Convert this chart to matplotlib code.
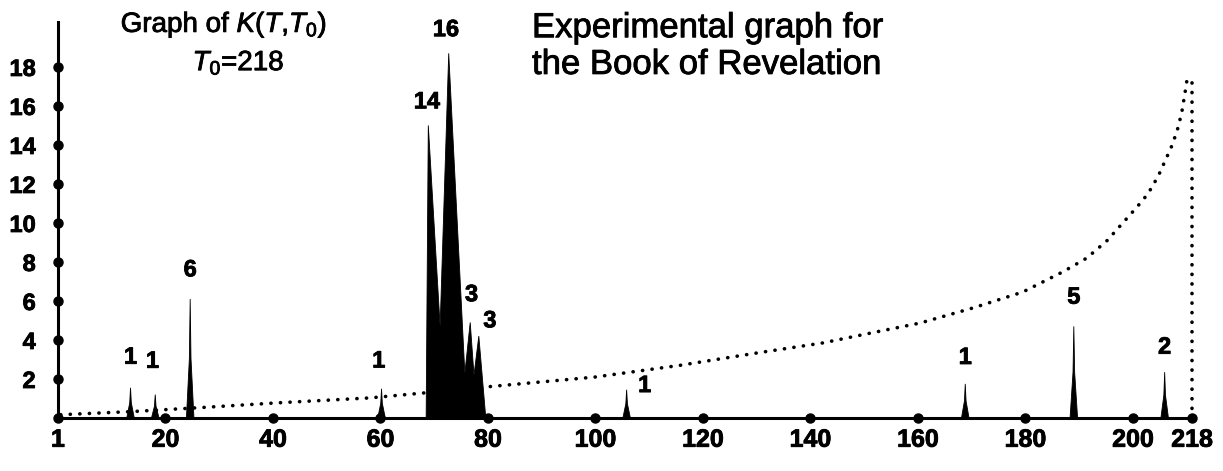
import numpy as np
import matplotlib
matplotlib.use("Agg")
import matplotlib.pyplot as plt
import matplotlib.patheffects as pe

plt.rcParams['font.family'] = ['Liberation Sans', 'DejaVu Sans']
plt.rcParams['mathtext.fontset'] = 'custom'
plt.rcParams['mathtext.rm'] = 'Liberation Sans'
plt.rcParams['mathtext.it'] = 'Liberation Sans:italic'

# axis ticks (the last tick "218" sits a bit closer than scale)
xtick_pos = [0, 20, 40, 60, 80, 100, 120, 140, 160, 180, 200, 211]
xtick_labels = ['1', '20', '40', '60', '80', '100', '120', '140', '160', '180', '200', '218']
ytick_pos = [2, 4, 6, 8, 10, 12, 14, 16, 18]
y_axis_top = 20.3

# isolated spikes: position, height
spike_x = [13.5, 18.1, 24.6, 60.2, 105.8, 168.8, 189.0, 205.9]
spike_h = [1.55, 1.2, 6.1, 1.5, 1.45, 1.75, 4.7, 2.35]

# the big cluster near 70-80 (outline of the filled shape)
cluster_x = [68.5, 68.9, 71.1, 72.7, 75.7, 76.7, 77.4, 78.3, 79.6]
cluster_y = [0, 15.0, 4.7, 18.7, 2.3, 4.9, 2.2, 4.2, 0]

# labelled peak tops and their printed values
label_x = [13.5, 18.1, 24.6, 60.2, 68.9, 72.7, 76.7, 78.3, 105.8, 168.8, 189.0, 205.9]
label_top = [1.55, 1.2, 6.1, 1.5, 15.0, 18.7, 4.9, 4.2, 1.45, 1.75, 4.7, 2.35]
label_txt = ['1', '1', '6', '1', '14', '16', '3', '3', '1', '1', '5', '2']

# dotted curve K(T,T0)
curve_x = [0.5, 13.8, 26.3, 41, 58, 67.9, 80.7, 99.9, 115.7, 130.4, 142.3, 151.1,
           160.4, 170.2, 179.5, 187.0, 191.4, 195.2, 198.1, 200.7, 202.8, 204.7,
           206.5, 207.3, 207.8, 208.4, 209.1, 209.7, 210.2]
curve_y = [0.17, 0.33, 0.53, 0.78, 1.03, 1.28, 1.62, 2.1, 2.7, 3.35, 3.85, 4.35,
           4.87, 5.64, 6.46, 7.5, 8.2, 9.1, 10.0, 10.8, 11.5, 12.4,
           13.5, 14.0, 14.4, 14.9, 15.7, 16.7, 17.6]

fig = plt.figure(figsize=(12.23, 4.71), dpi=100)
ax = fig.add_axes([0.0386, 0.0711, 0.9493, 0.911])
ax.set_xlim(-2, 214)
ax.set_ylim(-1, 21)

ink = [pe.withStroke(linewidth=0.6, foreground='black')]

# spines act as axes through the origin
for s in ['top', 'right']:
    ax.spines[s].set_visible(False)
ax.spines['left'].set_position(('data', 0))
ax.spines['bottom'].set_position(('data', 0))
ax.spines['left'].set_bounds(0, y_axis_top)
ax.spines['bottom'].set_bounds(xtick_pos[0], xtick_pos[-1])
ax.spines['left'].set_linewidth(2.2)
ax.spines['bottom'].set_linewidth(2.2)

ax.set_xticks(xtick_pos, xtick_labels)
ax.set_yticks(ytick_pos, [str(v) for v in ytick_pos])
ax.tick_params(axis='x', length=0, pad=7, labelsize=18)
ax.tick_params(axis='y', length=0, pad=16, labelsize=17)
for lab in ax.get_xticklabels() + ax.get_yticklabels():
    lab.set_fontweight('bold')
    lab.set_path_effects(ink)

# dots on the axes
ax.plot(xtick_pos, np.zeros(len(xtick_pos)), 'o', color='black', ms=6.5,
        clip_on=False, zorder=5)
ax.plot(np.zeros(len(ytick_pos)), ytick_pos, 'o', color='black', ms=6.5,
        clip_on=False, zorder=5)

# dotted curve and the vertical drop at T0
dot_style = dict(color='black', lw=2.6, linestyle=(0, (0.05, 2.6)),
                 dash_capstyle='round', zorder=2)
ax.plot(curve_x, curve_y, **dot_style)
ax.plot([xtick_pos[-1], xtick_pos[-1]], [0, curve_y[-1]], **dot_style)

# spikes
w = 0.7
for px, h in zip(spike_x, spike_h):
    ax.fill([px - w, px - 0.15, px, px + 0.15, px + w], [0, h * 0.5, h, h * 0.5, 0],
            color='black', lw=0.6, zorder=3)
ax.fill(cluster_x, cluster_y, color='black', lw=0.6, zorder=3)

# peak labels (offsets in points)
offsets = [(0, 22), (-2, 24), (0, 21), (-2, 20), (-1, 17), (-2, 17),
           (1, 20), (8, 11), (13, 3), (0, 19), (0, 21), (0, 18)]
for px, top, txt, off in zip(label_x, label_top, label_txt, offsets):
    ax.annotate(txt, (px, top), xytext=off, textcoords='offset points',
                ha='center', va='center', fontsize=17, fontweight='bold',
                path_effects=ink)

fig.text(0.183, 0.932, r'Graph of $K(T{,}T_0)$', ha='center', va='baseline',
         fontsize=20, path_effects=ink)
fig.text(0.195, 0.851, r'$T_0$=218', ha='center', va='baseline',
         fontsize=20, path_effects=ink)
fig.text(0.435, 0.921, 'Experimental graph for', ha='left', va='baseline',
         fontsize=25, path_effects=ink)
fig.text(0.435, 0.843, 'the Book of Revelation', ha='left', va='baseline',
         fontsize=25, path_effects=ink)

fig.savefig('out.png', dpi=100)
